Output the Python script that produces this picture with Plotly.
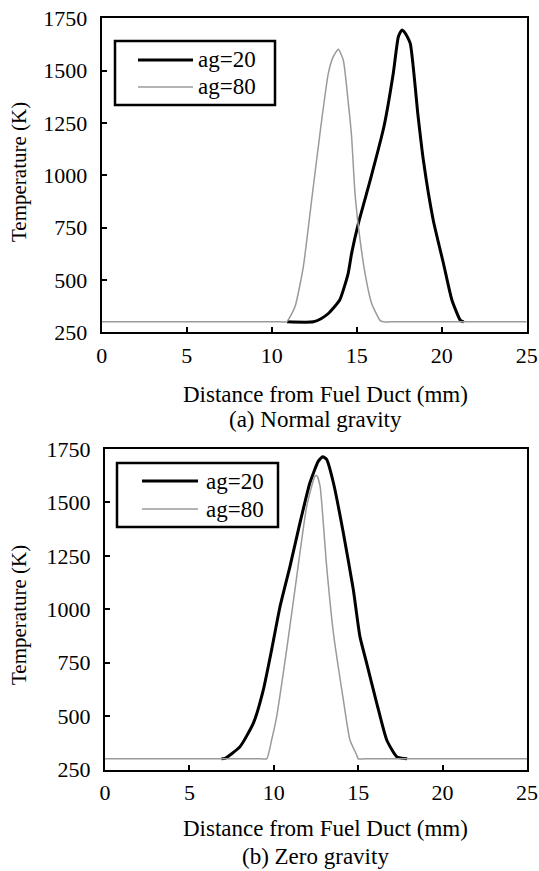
import plotly.graph_objects as go

W, H = 539, 871

# ---------------- data ----------------
x_ticks = [0, 5, 10, 15, 20, 25]
y_ticks = [250, 500, 750, 1000, 1250, 1500, 1750]

# (a) Normal gravity
ng_ag20_x = [10.9, 12.45, 12.9, 13.35, 14.0, 14.5, 14.7, 15.1, 15.8, 16.6, 17.15, 17.45, 17.65,
             17.85, 18.15, 18.6, 18.92, 19.5, 20.1, 20.6, 21.1, 21.3]
ng_ag20_y = [300, 300, 315, 341, 404, 532, 627, 771, 978, 1232, 1487, 1662, 1694,
             1680, 1631, 1290, 1073, 787, 580, 404, 307, 300]
ng_ag80_x = [0, 10.5, 10.88, 11.37, 11.86, 12.35, 12.84, 13.33, 13.62, 13.92, 14.21, 14.51, 14.7,
             14.9, 15.15, 15.49, 15.88, 16.37, 16.57, 17.0, 25]
ng_ag80_y = [300, 300, 300, 372, 563, 882, 1201, 1487, 1567, 1602, 1551, 1344, 1185,
             914, 723, 532, 388, 307, 300, 300, 300]

# (b) Zero gravity
zg_ag20_x = [6.9, 7.11, 8.0, 8.79, 9.38, 9.87, 10.37, 10.96, 11.55, 12.14, 12.64, 12.9, 13.13,
             13.53, 14.12, 14.71, 15.1, 15.5, 16.1, 16.69, 17.28, 17.9]
zg_ag20_y = [300, 302, 357, 467, 623, 810, 1013, 1201, 1404, 1592, 1693, 1714, 1701,
             1592, 1357, 1092, 873, 748, 560, 388, 310, 300]
zg_ag80_x = [0, 9.2, 9.58, 9.87, 10.17, 10.76, 11.36, 11.95, 12.44, 12.55, 12.74, 13.13, 13.53,
             14.12, 14.51, 14.91, 15.0, 15.4, 25]
zg_ag80_y = [300, 300, 300, 388, 498, 810, 1154, 1482, 1623, 1625, 1576, 1201, 889,
             576, 388, 318, 300, 300, 300]

series_names = ["ag=20", "ag=80"]
captions = ["(a) Normal gravity", "(b) Zero gravity"]
x_title = "Distance from Fuel Duct (mm)"
y_title = "Temperature (K)"

# ---------------- styling ----------------
FONT = "Times New Roman, Liberation Serif, serif"
BLACK = "#000000"
GRAY = "#9a9a9a"
W20, W80 = 3, 1.5

def px_x(p):
    return p / W

def px_y(p):
    return 1 - p / H

fig = go.Figure()

line_shape = dict(shape="spline", smoothing=0.5)

fig.add_trace(go.Scatter(x=ng_ag20_x, y=ng_ag20_y, mode="lines", name=series_names[0],
                         line=dict(color=BLACK, width=W20, **line_shape), xaxis="x", yaxis="y", showlegend=False))
fig.add_trace(go.Scatter(x=ng_ag80_x, y=ng_ag80_y, mode="lines", name=series_names[1],
                         line=dict(color=GRAY, width=W80, **line_shape), xaxis="x", yaxis="y", showlegend=False))
fig.add_trace(go.Scatter(x=zg_ag20_x, y=zg_ag20_y, mode="lines", name=series_names[0],
                         line=dict(color=BLACK, width=W20, **line_shape), xaxis="x2", yaxis="y2", showlegend=False))
fig.add_trace(go.Scatter(x=zg_ag80_x, y=zg_ag80_y, mode="lines", name=series_names[1],
                         line=dict(color=GRAY, width=W80, **line_shape), xaxis="x2", yaxis="y2", showlegend=False))

axis_common = dict(showline=True, linecolor=BLACK, linewidth=2, mirror=True,
                   ticks="inside", ticklen=5, tickwidth=2, tickcolor=BLACK,
                   showgrid=False, zeroline=False, automargin=False,
                   tickfont=dict(family=FONT, size=22, color=BLACK))

fig.update_layout(
    width=W, height=H,
    margin=dict(l=0, r=0, t=0, b=0, pad=0, autoexpand=False),
    paper_bgcolor="white", plot_bgcolor="white",
    font=dict(family=FONT, color=BLACK),
    xaxis=dict(domain=[px_x(101.7), px_x(526.7)], range=[0, 25], tickvals=x_ticks,
               anchor="y", ticklabelstandoff=2, **axis_common),
    yaxis=dict(domain=[px_y(332.3), px_y(18.4)], range=[250, 1750], tickvals=y_ticks,
               anchor="x", ticklabelstandoff=8, **axis_common),
    xaxis2=dict(domain=[px_x(105), px_x(527)], range=[0, 25], tickvals=x_ticks,
                anchor="y2", ticklabelstandoff=2, **axis_common),
    yaxis2=dict(domain=[px_y(769.5), px_y(449)], range=[250, 1750], tickvals=y_ticks,
                anchor="x2", ticklabelstandoff=8, **axis_common),
    showlegend=False,
)

annotations = []
shapes = []

def text(x, y, s, size=23, angle=0, xanchor="center"):
    annotations.append(dict(x=px_x(x), y=px_y(y), xref="paper", yref="paper", text=s,
                            showarrow=False, xanchor=xanchor, yanchor="middle", textangle=angle,
                            font=dict(family=FONT, size=size, color=BLACK)))

# axis titles and captions
text(325, 395, x_title)
text(315, 419, captions[0])
text(19, 172, y_title, size=21, angle=-90)
text(325, 828, x_title)
text(315, 856, captions[1])
text(19, 615, y_title, size=21, angle=-90)

# legends (manual boxes to match the reference sample length)
def legend_box(x0, x1, y0, y1, lx0, lx1, ly1, ly2, tx):
    shapes.append(dict(type="rect", xref="paper", yref="paper",
                       x0=px_x(x0), x1=px_x(x1), y0=px_y(y1), y1=px_y(y0),
                       line=dict(color=BLACK, width=2.5), fillcolor="white"))
    shapes.append(dict(type="line", xref="paper", yref="paper",
                       x0=px_x(lx0), x1=px_x(lx1), y0=px_y(ly1), y1=px_y(ly1),
                       line=dict(color=BLACK, width=W20)))
    shapes.append(dict(type="line", xref="paper", yref="paper",
                       x0=px_x(lx0), x1=px_x(lx1), y0=px_y(ly2), y1=px_y(ly2),
                       line=dict(color=GRAY, width=W80)))
    text(tx, ly1, series_names[0], size=23, xanchor="left")
    text(tx, ly2, series_names[1], size=23, xanchor="left")

legend_box(115, 275, 41, 105, 138, 193, 60, 87, 196)
legend_box(117, 278, 463, 527, 142, 198, 481, 509, 204)

fig.update_layout(annotations=annotations, shapes=shapes)

fig.write_html("out.html",
               config={"displayModeBar": False},
               post_script="document.body.style.margin='0px';document.body.style.padding='0px';"
                           "document.body.style.overflow='hidden';")
